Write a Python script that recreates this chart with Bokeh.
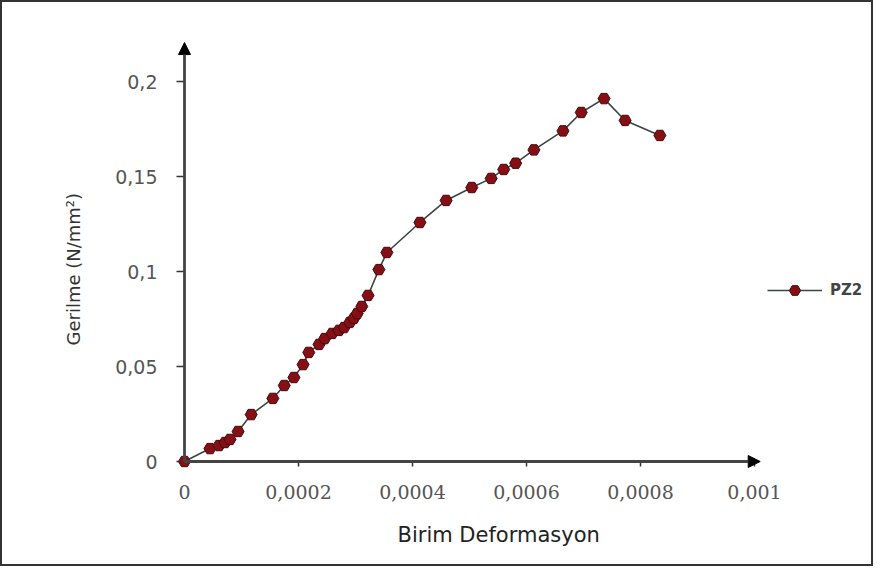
from bokeh.plotting import figure
from bokeh.models import (Range1d, FixedTicker, Arrow, NormalHead, Title, Legend,
                          LegendItem)
from bokeh.embed import file_html
from bokeh.resources import INLINE

# ---- data ----
strain = [0, 4.47e-5, 6.05e-5, 7.1e-5, 7.98e-5, 9.4e-5, 1.17e-4, 1.55e-4, 1.75e-4,
          1.92e-4, 2.08e-4, 2.18e-4, 2.36e-4, 2.46e-4, 2.59e-4, 2.71e-4, 2.80e-4,
          2.90e-4, 2.97e-4, 3.03e-4, 3.11e-4, 3.22e-4, 3.41e-4, 3.55e-4, 4.13e-4,
          4.59e-4, 5.04e-4, 5.38e-4, 5.60e-4, 5.81e-4, 6.13e-4, 6.64e-4, 6.96e-4,
          7.36e-4, 7.73e-4, 8.34e-4]
stress = [0, 0.0068, 0.0084, 0.010, 0.0116, 0.0158, 0.0247, 0.0332, 0.040,
          0.0442, 0.051, 0.0574, 0.0616, 0.0647, 0.0674, 0.069, 0.0705,
          0.0732, 0.0753, 0.0779, 0.0816, 0.0874, 0.101, 0.110, 0.1258,
          0.1374, 0.1442, 0.149, 0.1537, 0.157, 0.164, 0.174, 0.1837,
          0.191, 0.1795, 0.1716]
series_name = "PZ2"
x_ticks = [0, 0.0002, 0.0004, 0.0006, 0.0008, 0.001]
x_tick_labels = ["0", "0,0002", "0,0004", "0,0006", "0,0008", "0,001"]
y_ticks = [0, 0.05, 0.1, 0.15, 0.2]
y_tick_labels = ["0", "0,05", "0,1", "0,15", "0,2"]
x_title = "Birim Deformasyon"
y_title = "Gerilme (N/mm²)"

# ---- layout ----
W, H = 873, 566
FL, FR, FT, FB = 170, 865, 14, 471          # frame edges (canvas px)
E = 12                                      # frame extends E px past the data origin
XPX = 570000.0                              # px per strain unit
YPX = 1900.0                                # px per stress unit
x0 = -E / XPX
y0 = -E / YPX
X_TICK_LEN = 5 / YPX                        # tick lengths in data units
Y_TICK_LEN = 8 / XPX

p = figure(width=W, height=H, output_backend="svg", toolbar_location=None,
           x_range=Range1d(x0, x0 + (FR - FL) / XPX),
           y_range=Range1d(y0, y0 + (FB - FT) / YPX),
           min_border_left=FL, min_border_right=W - FR,
           min_border_top=FT, min_border_bottom=H - FB)
p.styles = {"border": "2px solid #333333"}
p.outline_line_color = None
p.xgrid.visible = False
p.ygrid.visible = False
p.background_fill_color = "white"
p.border_fill_color = "white"

# label axes at the frame edges (tick marks are drawn at the origin below)
for ax in (p.xaxis[0], p.yaxis[0]):
    ax.axis_line_color = None
    ax.minor_tick_line_color = None
    ax.major_tick_line_color = None
    ax.major_tick_in = 0
    ax.major_tick_out = 0
    ax.major_label_text_color = "#555555"

p.xaxis[0].ticker = FixedTicker(ticks=x_ticks)
p.xaxis[0].major_label_overrides = {t: l for t, l in zip(x_ticks, x_tick_labels)}
p.xaxis[0].major_label_text_font = "DejaVu Serif"
p.xaxis[0].major_label_text_font_size = "19px"
p.xaxis[0].major_label_standoff = 11

p.yaxis[0].ticker = FixedTicker(ticks=y_ticks)
p.yaxis[0].major_label_overrides = {t: l for t, l in zip(y_ticks, y_tick_labels)}
p.yaxis[0].major_label_text_font = "DejaVu Sans"
p.yaxis[0].major_label_text_font_size = "19px"
p.yaxis[0].major_label_standoff = 15

# tick marks on the axis lines through the origin
p.segment(x0=x_ticks, y0=[0] * len(x_ticks), x1=x_ticks, y1=[-X_TICK_LEN] * len(x_ticks),
          line_color="#333333", line_width=1.5)
p.segment(x0=[0] * len(y_ticks), y0=y_ticks, x1=[-Y_TICK_LEN] * len(y_ticks), y1=y_ticks,
          line_color="#333333", line_width=1.5)

# axis lines with arrow heads, through the data origin
p.add_layout(Arrow(end=NormalHead(size=12, fill_color="black", line_color="black"),
                   x_start=0, y_start=0, x_end=0.00101, y_end=0,
                   line_color="#444444", line_width=2.8))
p.add_layout(Arrow(end=NormalHead(size=12, fill_color="black", line_color="black"),
                   x_start=0, y_start=0, x_end=0, y_end=0.2205,
                   line_color="#444444", line_width=2.8))

ln = p.line(strain, stress, line_color="#3a463f", line_width=1.6)
sc = p.scatter(strain, stress, marker="hex", size=12,
               fill_color="#860f16", line_color="#440a0a", line_width=1)

legend = Legend(items=[LegendItem(label=series_name, renderers=[ln, sc])],
                location=(595, 169), padding=0, margin=0, spacing=0,
                glyph_width=55, glyph_height=28, label_height=28,
                label_standoff=8, border_line_color=None,
                background_fill_alpha=0,
                label_text_font="DejaVu Sans", label_text_font_size="15px",
                label_text_font_style="bold", label_text_color="#444444")
p.add_layout(legend)

p.add_layout(Title(text=x_title, align="left", offset=225, standoff=38,
                   text_font="DejaVu Sans", text_font_size="21px",
                   text_font_style="normal", text_color="#222222"), "below")
p.add_layout(Title(text=y_title, align="left", offset=128, standoff=58,
                   text_font="DejaVu Sans", text_font_size="18px",
                   text_font_style="normal", text_color="#333333"), "left")

open("out.html", "w").write(file_html(p, INLINE))
